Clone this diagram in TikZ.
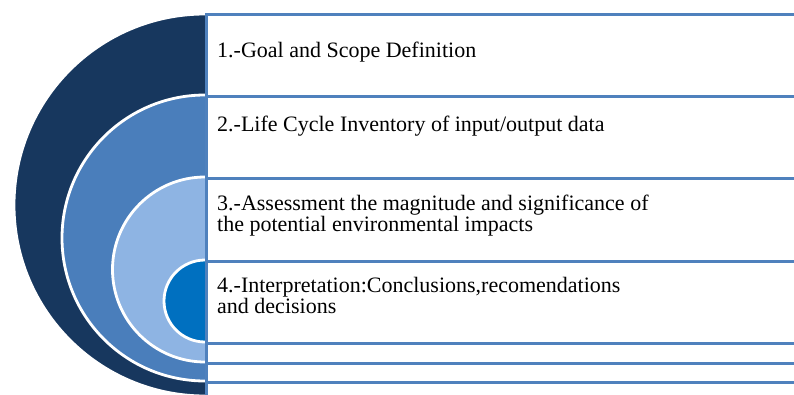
\documentclass[tikz,border=0pt]{standalone}
\usepackage{fontspec}
\setmainfont{Liberation Serif}
\usepackage{tikz}
\usetikzlibrary{positioning}

\definecolor{ringnavy}{HTML}{17375E}
\definecolor{ringmid}{HTML}{4A7EBB}
\definecolor{ringlight}{HTML}{8EB4E3}
\definecolor{ringcore}{HTML}{0070C0}
\definecolor{boxline}{HTML}{4F81BD}

\tikzset{
  ring/.style={draw=white, line width=2.8pt},
  stagebox/.style={draw=boxline, fill=white, line width=3.2pt, inner sep=0pt,
    minimum width=640pt, anchor=north west},
  stagetext/.style={inner sep=0pt, anchor=base west, align=left,
    font=\fontsize{22pt}{20.5pt}\selectfont}
}

\begin{document}
\begin{tikzpicture}[x=1pt, y=-1pt]
    \useasboundingbox (0, 0) rectangle (794, 395);
    \clip (0, 0) rectangle (794, 395);
    \fill [white] (0, 0) rectangle (794, 395);

    % nested half discs
    \begin{scope}
      \clip (0, 0) rectangle (206, 395);
      \filldraw [ring, fill=ringnavy] (205, 205) circle [radius=191pt];
      \filldraw [ring, fill=ringmid] (205, 238) circle [radius=143pt];
      \filldraw [ring, fill=ringlight] (205, 269.5) circle [radius=92.5pt];
      \filldraw [ring, fill=ringcore] (205, 301) circle [radius=41pt];
    \end{scope}

    % stages
    \node [stagebox, minimum height=82pt] (goalbox) at (205, 13) {};
    \node [stagebox, minimum height=82pt] (lcibox) at (205, 95) {};
    \node [stagebox, minimum height=83pt] (impactbox) at (205, 177) {};
    \node [stagebox, minimum height=82pt] (interpbox) at (205, 260) {};
    \node [stagebox, minimum height=20pt] (spareone) at (205, 342) {};
    \node [stagebox, minimum height=19pt] (sparetwo) at (205, 362) {};
    \node [stagebox, minimum height=40pt] (sparethree) at (205, 381) {};

    % base anchor sits on the last line
    \node [stagetext] (goaltext) at (217, 58) {1.-Goal and Scope Definition};
    \node [stagetext] (lcitext) at (217, 132) {2.-Life Cycle Inventory of input/output data};
    \node [stagetext] (impacttext) at (217, 231) {3.-Assessment the magnitude and significance of\\the potential environmental impacts};
    \node [stagetext] (interptext) at (217, 313) {4.-Interpretation:Conclusions,recomendations\\and decisions};
\end{tikzpicture}
\end{document}
